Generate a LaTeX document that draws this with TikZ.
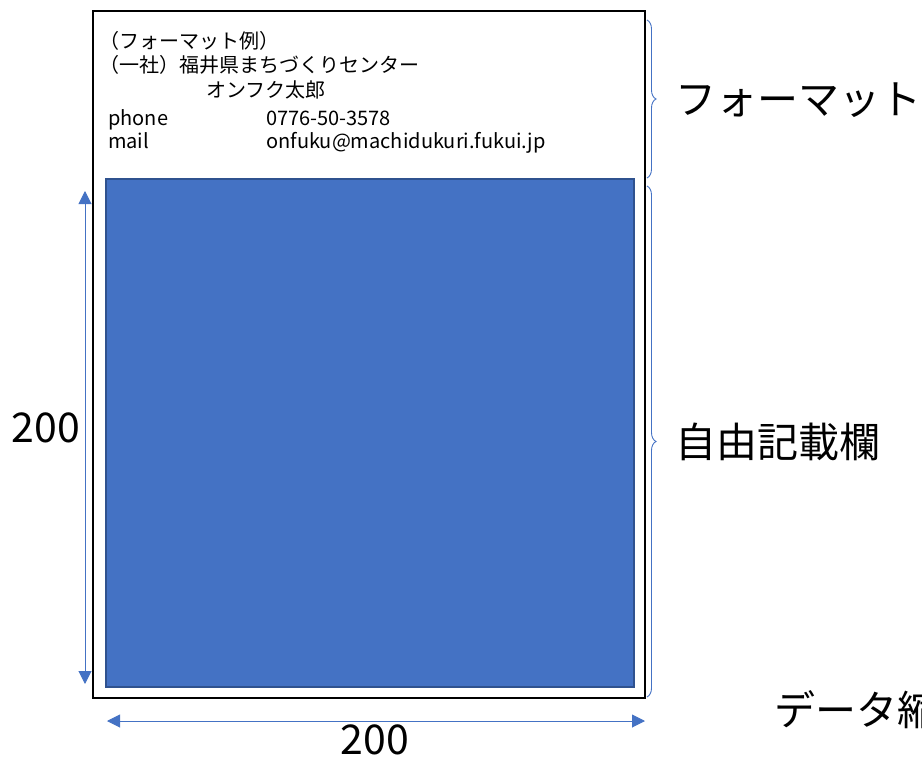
\documentclass[tikz,border=0pt]{standalone}
\usepackage{fontspec}
\setmainfont{Noto Sans CJK JP}
\usetikzlibrary{arrows.meta,decorations.pathreplacing}
\definecolor{blueA}{HTML}{4472C4}
\definecolor{blueB}{HTML}{2F528F}
\tikzset{
  frame/.style={draw=black,line width=2pt},
  bluebox/.style={fill=blueA,draw=blueB,line width=1.2pt},
  dimarrow/.style={draw=blueA,line width=1pt,{Triangle[length=13pt,width=13pt]}-{Triangle[length=13pt,width=13pt]}},
  bracestyle/.style={draw=blueA,line width=0.9pt,decorate,decoration={brace,amplitude=9pt,aspect=0.5}},
  headtxt/.style={anchor=base west,inner sep=0pt,font=\fontsize{20}{24}\selectfont},
  bigtxt/.style={inner sep=0pt,font=\fontsize{41}{46}\selectfont},
}
\begin{document}
\begin{tikzpicture}[x=1pt,y=-1pt]
\useasboundingbox (0,0) rectangle (922,760);
% outer frame and blue area
\coordinate (f1) at (93,11);
\coordinate (f2) at (645,698);
\draw[frame] (f1) rectangle (f2);
\coordinate (b1) at (106,179);
\coordinate (b2) at (634,687);
\draw[bluebox] (b1) rectangle (b2);
% header text
\node[headtxt] (h1) at (99,49) {（フォーマット例）};
\node[headtxt] (h2) at (99,73) {（一社）福井県まちづくりセンター};
\node[headtxt] (h3) at (206,98) {オンフク太郎};
\node[headtxt] (h4) at (108,125) {phone};
\node[headtxt] (h5) at (266,125) {0776-50-3578};
\node[headtxt] (h6) at (108,148) {mail};
\node[headtxt] (h7) at (266,148) {onfuku@machidukuri.fukui.jp};
% braces
\coordinate (br1t) at (647,20);
\coordinate (br1b) at (647,178);
\coordinate (br2t) at (647,186);
\coordinate (br2b) at (647,697);
\draw[bracestyle] (br1t) -- (br1b);
\draw[bracestyle] (br2t) -- (br2b);
% labels
\node[bigtxt,anchor=west] (l1) at (675,100) {フォーマット};
\node[bigtxt,anchor=west] (l2) at (675,442) {自由記載欄};
\node[bigtxt,anchor=west] (l3) at (774,710) {データ縮};
% dimension arrows
\coordinate (va) at (85,191);
\coordinate (vb) at (85,684);
\draw[dimarrow] (vb) -- (va);
\coordinate (ha) at (107,721);
\coordinate (hb) at (645,721);
\draw[dimarrow] (ha) -- (hb);
\node[bigtxt] (d1) at (46,428) {200};
\node[bigtxt] (d2) at (375,740) {200};
\end{tikzpicture}
\end{document}
